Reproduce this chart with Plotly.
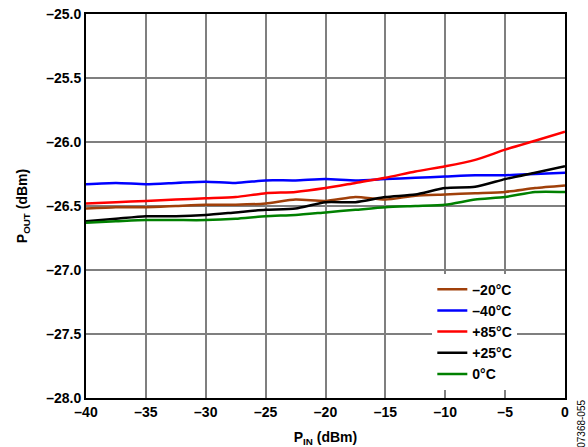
import plotly.graph_objects as go

p_in = [-40, -37.5, -35, -32.5, -30, -27.5, -25, -22.5, -20, -17.5, -15, -12.5, -10, -7.5, -5, -2.5, 0]

pout_m20 = [-26.52, -26.51, -26.51, -26.50, -26.49, -26.49, -26.48, -26.45, -26.46, -26.43, -26.45, -26.42, -26.41, -26.40, -26.39, -26.36, -26.34]
pout_m40 = [-26.33, -26.32, -26.33, -26.32, -26.31, -26.32, -26.30, -26.30, -26.29, -26.30, -26.29, -26.28, -26.27, -26.26, -26.26, -26.25, -26.24]
pout_p85 = [-26.48, -26.47, -26.46, -26.45, -26.44, -26.43, -26.40, -26.39, -26.36, -26.32, -26.28, -26.23, -26.19, -26.14, -26.06, -25.99, -25.92]
pout_p25 = [-26.62, -26.60, -26.58, -26.58, -26.57, -26.55, -26.53, -26.52, -26.47, -26.47, -26.43, -26.41, -26.36, -26.35, -26.29, -26.24, -26.19]
pout_0 = [-26.63, -26.62, -26.61, -26.61, -26.61, -26.60, -26.58, -26.57, -26.55, -26.53, -26.51, -26.50, -26.49, -26.45, -26.43, -26.39, -26.39]

series_names = ["–20°C", "–40°C", "+85°C", "+25°C", "0°C"]
series_colors = ["#A0400A", "#0000FF", "#FF0000", "#000000", "#008000"]
series_values = [pout_m20, pout_m40, pout_p85, pout_p25, pout_0]

x_ticks = [-40, -35, -30, -25, -20, -15, -10, -5, 0]
x_ticktext = ["–40", "–35", "–30", "–25", "–20", "–15", "–10", "–5", "0"]
y_ticks = [-28.0, -27.5, -27.0, -26.5, -26.0, -25.5, -25.0]
y_ticktext = ["–28.0", "–27.5", "–27.0", "–26.5", "–26.0", "–25.5", "–25.0"]

FONT = "Liberation Sans, Arial, sans-serif"

fig = go.Figure()
for name, color, vals in zip(series_names, series_colors, series_values):
    fig.add_trace(go.Scatter(x=p_in, y=vals, mode="lines", name=name,
                             line=dict(color=color, width=2.5, shape="spline", smoothing=0.6)))

axis_common = dict(showgrid=True, gridcolor="#7f7f7f", gridwidth=1.5,
                   showline=True, linecolor="black", linewidth=2, mirror=True,
                   ticks="", zeroline=False, automargin=False,
                   tickfont=dict(family=FONT, size=14, color="black", weight="bold"))

fig.update_layout(
    width=588, height=447,
    margin=dict(l=86, r=23, t=14, b=49),
    paper_bgcolor="white", plot_bgcolor="white",
    font=dict(family=FONT, size=14, color="black"),
    xaxis=dict(range=[-40, 0], tickvals=x_ticks, ticktext=x_ticktext,
               title=dict(text="<b>P<sub>IN</sub> (dBm)</b>",
                          font=dict(family=FONT, size=14, color="black")),
               **axis_common),
    yaxis=dict(range=[-28, -25], tickvals=y_ticks, ticktext=y_ticktext,
               title=dict(text="<b>P<sub>OUT</sub> (dBm)</b>",
                          font=dict(family=FONT, size=14, color="black")),
               **axis_common),
    legend=dict(x=0.723, y=0.324, xanchor="left", yanchor="top",
                bgcolor="white", borderwidth=0, itemwidth=30,
                font=dict(family=FONT, size=14, color="black", weight="bold"),
                tracegroupgap=0),
    showlegend=True,
)

fig.add_annotation(text="07368-055", xref="paper", yref="paper", x=1.033, y=0.0,
                   xanchor="center", yanchor="top", textangle=-90, showarrow=False,
                   font=dict(family=FONT, size=10, color="black"))

fig.write_html("out.html", config={"displayModeBar": False},
               post_script="document.body.style.margin='0';document.body.style.overflow='hidden';")
